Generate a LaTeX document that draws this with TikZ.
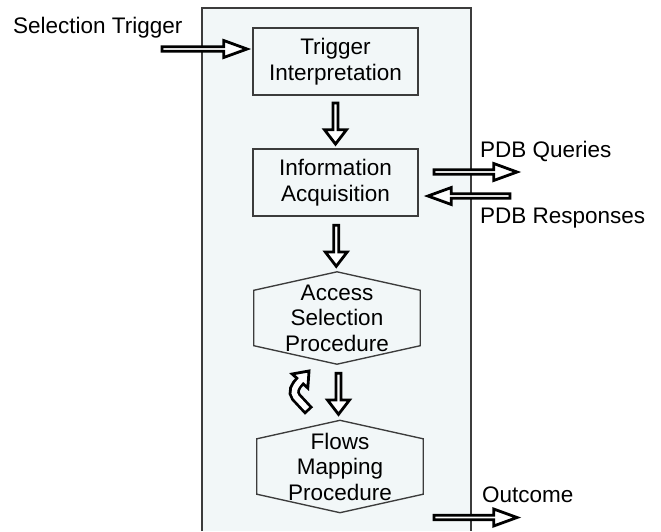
\documentclass[tikz,border=0pt]{standalone}
\usepackage{fontspec}
\setmainfont{Liberation Sans}
\usetikzlibrary{shapes.arrows,calc}

\definecolor{panelfill}{RGB}{242,247,248}
\definecolor{edgegray}{RGB}{60,60,60}

\tikzset{
  box/.style={draw=edgegray, line width=1.2pt, minimum width=165pt, minimum height=67pt, align=center, inner sep=0pt},
  hexa/.style={minimum width=166pt, minimum height=92pt, align=center, inner sep=0pt},
  blockh/.style={single arrow, draw=black, line width=2.8pt, fill=white, inner sep=0pt, minimum width=17pt, single arrow head extend=4pt, single arrow tip angle=40},
  blockv/.style={single arrow, draw=black, line width=2.8pt, fill=white, inner sep=0pt, minimum width=22pt, minimum height=41pt, single arrow head extend=5pt, single arrow tip angle=75, shape border rotate=270},
  lbl/.style={anchor=base west, inner sep=0pt}
}

\begin{document}
\begin{tikzpicture}[x=1pt,y=-1pt,font=\fontsize{22.5}{25.5}\selectfont]
    \useasboundingbox (0,0) rectangle (661,531);
    \fill[panelfill] (202,8) rectangle (471,531);
    \draw[edgegray, line width=1.3pt] (202,531) -- (202,8) -- (471,8) -- (471,531);

    \node[box] (trig) at (335.5,61.5) {Trigger\\Interpretation};
    \node[box] (info) at (335.5,182.5) {Information\\Acquisition};
    \node[hexa] (acc) at (337,318) {Access\\Selection\\Procedure};
    \node[hexa] (flow) at (340,466.5) {Flows\\Mapping\\Procedure};

    \foreach \n in {acc,flow}
        \draw[edgegray, line width=1.35pt] (\n.north) -- ($(\n.north east)+(0,18.5)$) -- ($(\n.south east)+(0,-18.5)$)
            -- (\n.south) -- ($(\n.south west)+(0,-18.5)$) -- ($(\n.north west)+(0,18.5)$) -- cycle;

    \node[lbl] (seltxt) at (13,33) {Selection Trigger};
    \node[lbl] (qtxt) at (480,157) {PDB Queries};
    \node[lbl] (rtxt) at (480,223) {PDB Responses};
    \node[lbl] (otxt) at (482,502) {Outcome};

    \node[blockh, minimum height=85pt] (selarr) at (201.5,49) {};
    \node[blockv] (down1) at ($(trig.south)!0.5!(info.north)$) {};
    \node[blockv] (down2) at ($(info.south)!0.5!(acc.north)$) {};
    \node[blockv] (down3) at ($(acc.south)!0.5!(flow.north)$) {};
    \node[blockh, minimum height=83pt] (qarr) at (472.5,172) {};
    \node[blockh, minimum height=82pt, shape border rotate=180] (rarr) at (472,196) {};
    \node[blockh, minimum height=83pt] (oarr) at (472.5,517.5) {};

    \coordinate (cb) at (300,381);
    \coordinate (ce) at (309,411);
    \path[fill=white, draw=black, line width=2.8pt] ($(cb)+(138:10.5pt)$) -- ($(cb)+(48:13.5pt)$) -- ($(cb)+(-42:10.5pt)$) -- cycle;
    \draw[black, line width=11pt] (ce) -- (296,397) .. controls (292,392) and (295,386) .. (cb);
    \draw[white, line width=5.5pt, shorten <=2.8pt, shorten >=-3pt] (ce) -- (296,397) .. controls (292,392) and (295,386) .. (cb);
\end{tikzpicture}
\end{document}
